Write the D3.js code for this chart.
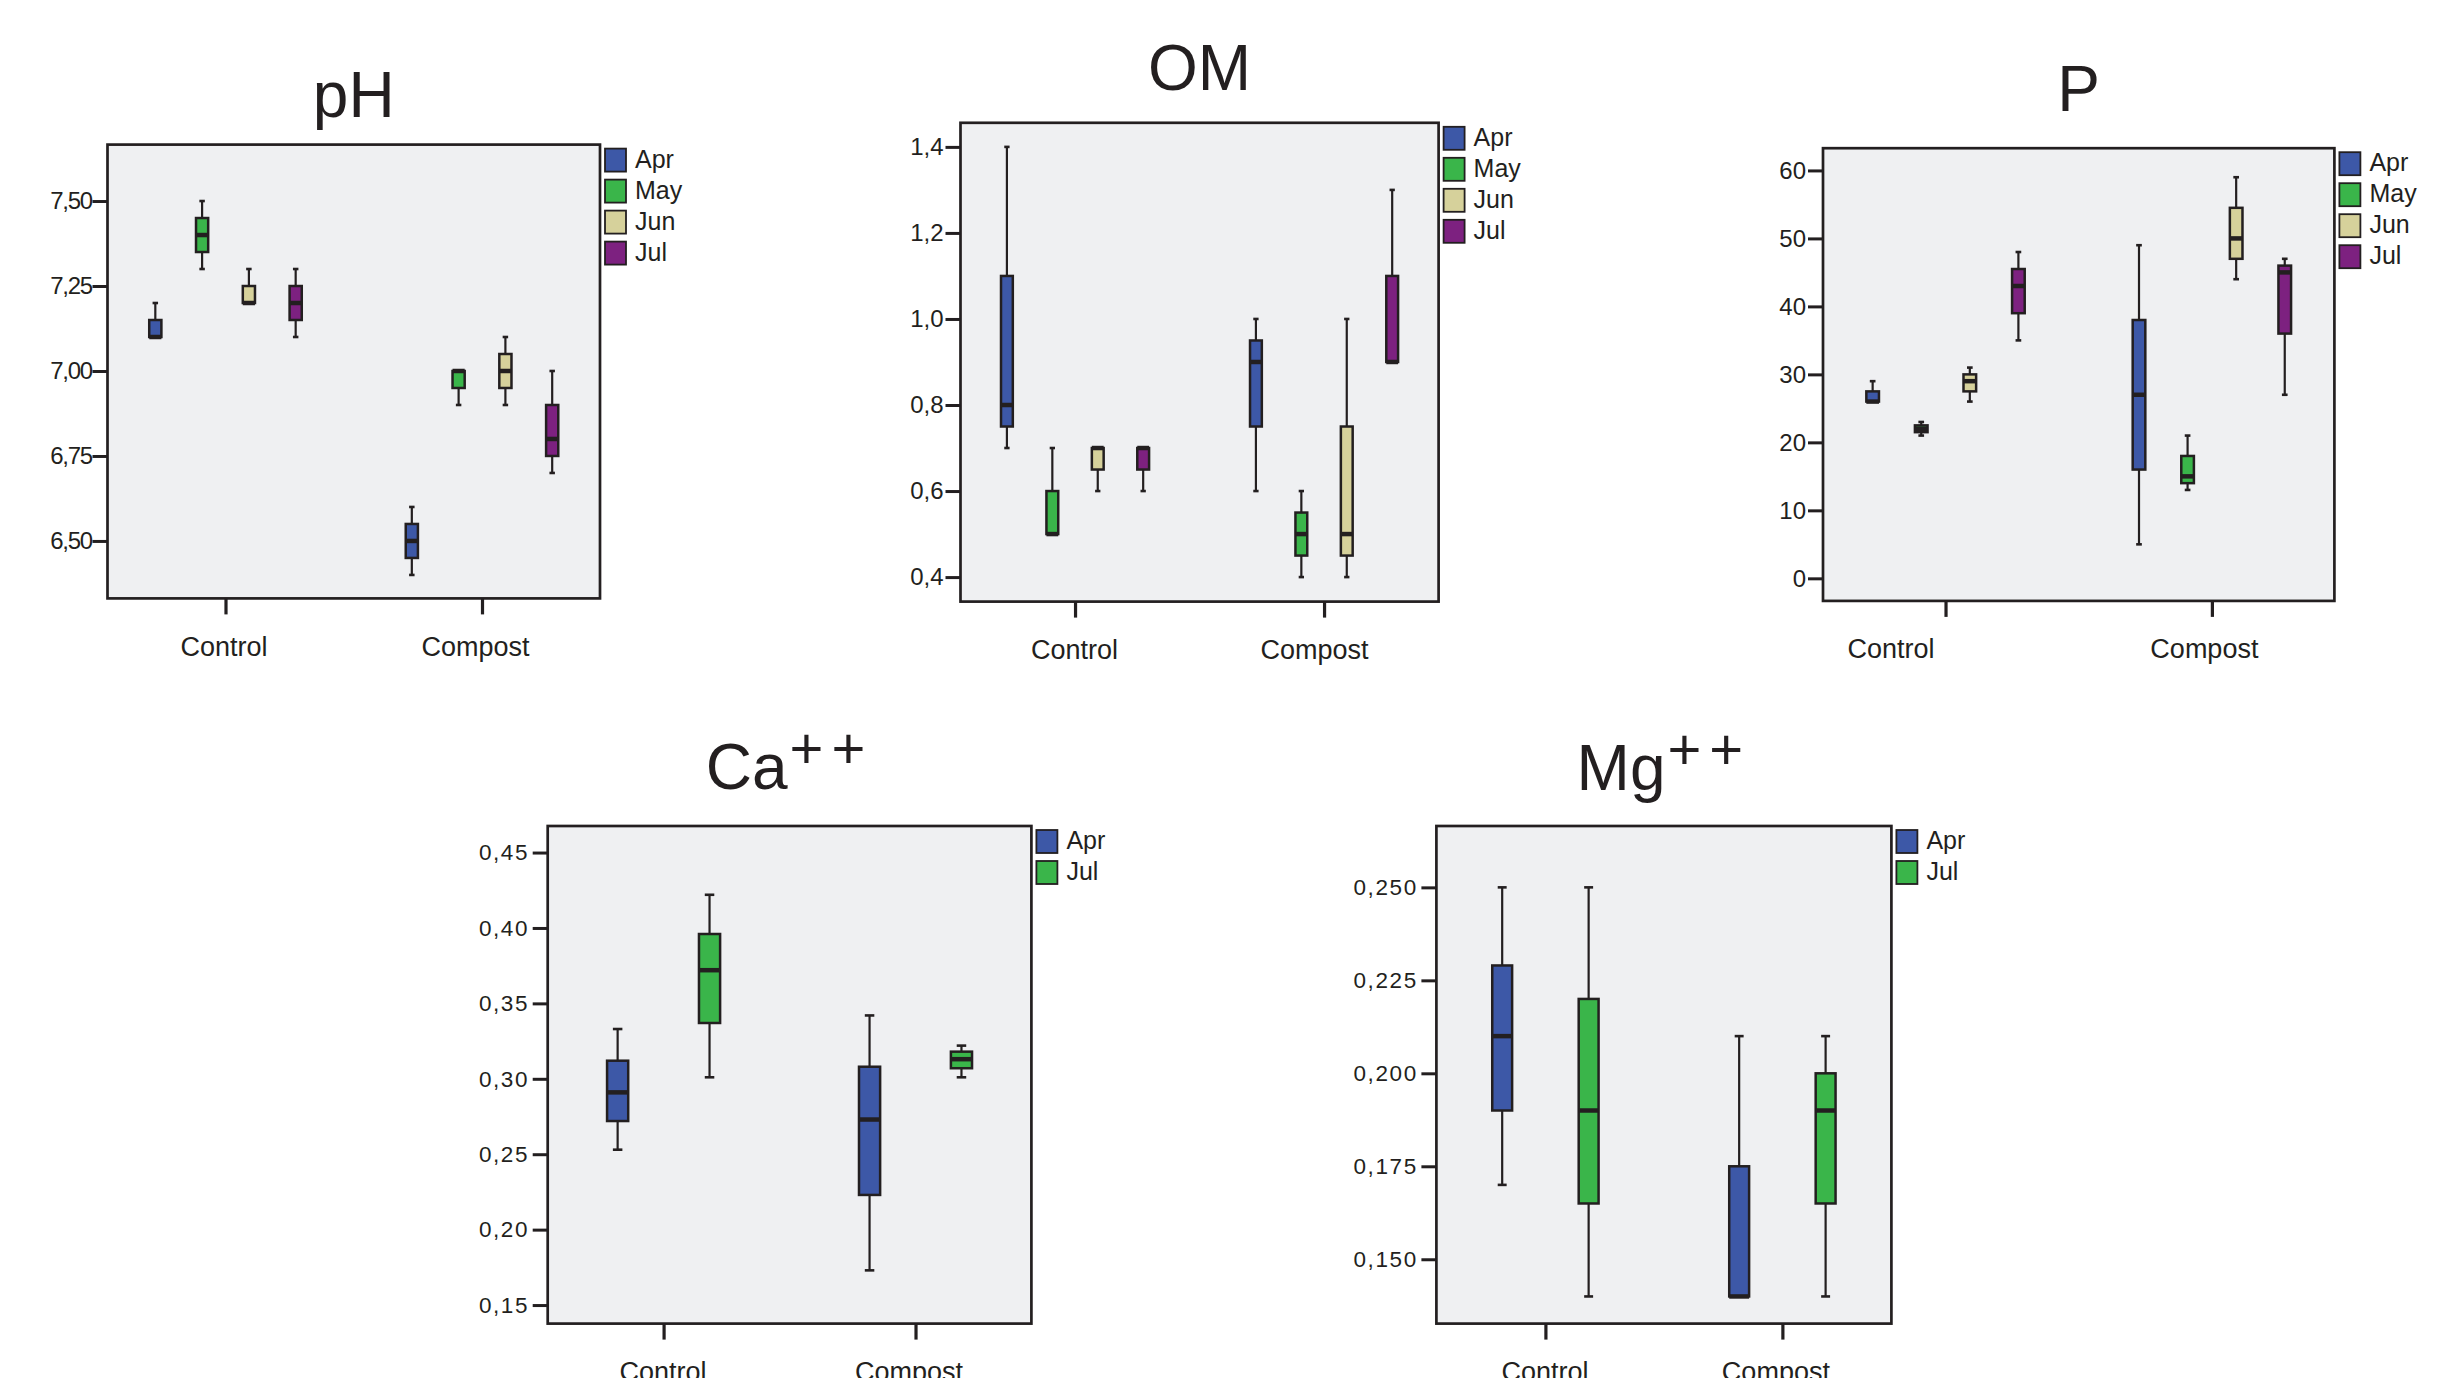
<!DOCTYPE html>
<html>
<head>
    <meta charset="utf-8">
    <title>Soil parameters boxplots</title>
    <script src="https://cdnjs.cloudflare.com/ajax/libs/d3/7.8.5/d3.min.js"></script>
    <style>
        body { margin: 0; background: #fff; }
        text { font-family: "Liberation Sans", Arial, Helvetica, sans-serif; fill: #231f20; }
    </style>
</head>
<body>
<svg id="chart" width="2444" height="1378"></svg>
<script>
    // groups and months
    var groups = ["Control", "Compost"];
    var months4 = ["Apr", "May", "Jun", "Jul"];
    var months2 = ["Apr", "Jul"];

    // each box: [low whisker, q1, median, q3, high whisker], Control months then Compost months
    var phStats = [
        [7.10, 7.10, 7.10, 7.15, 7.20],
        [7.30, 7.35, 7.40, 7.45, 7.50],
        [7.20, 7.20, 7.20, 7.25, 7.30],
        [7.10, 7.15, 7.20, 7.25, 7.30],
        [6.40, 6.45, 6.50, 6.55, 6.60],
        [6.90, 6.95, 7.00, 7.00, 7.00],
        [6.90, 6.95, 7.00, 7.05, 7.10],
        [6.70, 6.75, 6.80, 6.90, 7.00]
    ];
    var omStats = [
        [0.70, 0.75, 0.80, 1.10, 1.40],
        [0.50, 0.50, 0.50, 0.60, 0.70],
        [0.60, 0.65, 0.70, 0.70, 0.70],
        [0.60, 0.65, 0.70, 0.70, 0.70],
        [0.60, 0.75, 0.90, 0.95, 1.00],
        [0.40, 0.45, 0.50, 0.55, 0.60],
        [0.40, 0.45, 0.50, 0.75, 1.00],
        [0.90, 0.90, 0.90, 1.10, 1.30]
    ];
    var pStats = [
        [26, 26, 26, 27.5, 29],
        [21, 21.5, 22, 22.5, 23],
        [26, 27.5, 29, 30, 31],
        [35, 39, 43, 45.5, 48],
        [5, 16, 27, 38, 49],
        [13, 14, 15, 18, 21],
        [44, 47, 50, 54.5, 59],
        [27, 36, 45, 46, 47]
    ];
    var caStats = [
        [0.253, 0.272, 0.291, 0.312, 0.333],
        [0.301, 0.337, 0.372, 0.396, 0.422],
        [0.173, 0.223, 0.273, 0.308, 0.342],
        [0.301, 0.307, 0.313, 0.318, 0.322]
    ];
    var mgStats = [
        [0.170, 0.190, 0.210, 0.229, 0.250],
        [0.140, 0.165, 0.190, 0.220, 0.250],
        [0.140, 0.140, 0.140, 0.175, 0.210],
        [0.140, 0.165, 0.190, 0.200, 0.210]
    ];

    // tick values per chart
    var phTicks = [6.50, 6.75, 7.00, 7.25, 7.50];
    var omTicks = [0.4, 0.6, 0.8, 1.0, 1.2, 1.4];
    var pTicks = [0, 10, 20, 30, 40, 50, 60];
    var caTicks = [0.15, 0.20, 0.25, 0.30, 0.35, 0.40, 0.45];
    var mgTicks = [0.150, 0.175, 0.200, 0.225, 0.250];

    var monthColor = {Apr: "#3d58a7", May: "#3ab54a", Jun: "#d6d19b", Jul: "#7d2180"};
    var monthColor2 = {Apr: "#3d58a7", Jul: "#3ab54a"};

    var locale = d3.formatLocale({decimal: ",", thousands: ".", grouping: [3], currency: ["", ""]});

    var panels = [
        {title: "pH", sup: null, stats: phStats, months: months4, colors: monthColor, ticks: phTicks,
         fmt: locale.format(".2f"), domain: [6.331, 7.666], tickFont: [24, -1.3],
         box: [107.5, 144.6, 600, 598.4], titleY: 117, labelShift: [-2, -7]},
        {title: "OM", sup: null, stats: omStats, months: months4, colors: monthColor, ticks: omTicks,
         fmt: locale.format(".1f"), domain: [0.343, 1.456], tickFont: [24, 0],
         box: [960.5, 122.8, 1438.6, 601.6], titleY: 90, labelShift: [-1, -10]},
        {title: "P", sup: null, stats: pStats, months: months4, colors: monthColor, ticks: pTicks,
         fmt: locale.format("d"), domain: [-3.32, 63.27], tickFont: [24, 0],
         box: [1823, 148.2, 2334.4, 600.9], titleY: 110.5, labelShift: [-55, -8]},
        {title: "Ca", sup: "++", stats: caStats, months: months2, colors: monthColor2, ticks: caTicks,
         fmt: locale.format(".2f"), domain: [0.1377, 0.4676], tickFont: [22.5, 1.6],
         box: [547.7, 826, 1031.4, 1323.6], titleY: 789, labelShift: [-1, -7]},
        {title: "Mg", sup: "++", stats: mgStats, months: months2, colors: monthColor2, ticks: mgTicks,
         fmt: locale.format(".3f"), domain: [0.1327, 0.2665], tickFont: [22.5, 1.6],
         box: [1436.4, 826, 1891.4, 1323.6], titleY: 790, labelShift: [-1, -7]}
    ];

    var svg = d3.select("#chart");
    var ink = "#231f20";

    panels.forEach(function(p) {
        var W = p.box[2] - p.box[0],
            H = p.box[3] - p.box[1];

        var g = svg.append("g")
            .attr("transform", "translate(" + p.box[0] + "," + p.box[1] + ")");

        var y = d3.scaleLinear().domain(p.domain).range([H, 0]);
        var x0 = d3.scalePoint().domain(groups).range([0, W]).padding(0.46);
        var x1 = d3.scaleBand().domain(p.months).range([-0.19 * W, 0.19 * W]);
        var boxW = x1.step() * (p.months.length > 2 ? 0.26 : 0.23);
        var capW = boxW * 0.45;

        // title
        var t = svg.append("text")
            .attr("x", (p.box[0] + p.box[2]) / 2)
            .attr("y", p.titleY)
            .attr("text-anchor", "middle")
            .attr("font-size", 64)
            .text(p.title);
        if (p.sup) {
            t.append("tspan")
                .attr("dy", -21)
                .attr("dx", 2)
                .attr("font-size", 58)
                .attr("letter-spacing", 8)
                .text(p.sup);
        }

        // plot area
        g.append("rect")
            .attr("width", W)
            .attr("height", H)
            .attr("fill", "#eff0f2")
            .attr("stroke", ink)
            .attr("stroke-width", 2.7);

        // y axis
        var yAxis = g.append("g")
            .call(d3.axisLeft(y).tickValues(p.ticks).tickFormat(p.fmt).tickSize(15).tickPadding(2));
        yAxis.select(".domain").remove();
        yAxis.selectAll("line").attr("stroke", ink).attr("stroke-width", 3);
        yAxis.selectAll("text")
            .attr("font-size", p.tickFont[0])
            .attr("letter-spacing", p.tickFont[1])
            .attr("dx", -p.tickFont[1])
            .attr("font-family", "Liberation Sans, Arial, sans-serif")
            .attr("fill", ink);

        // x axis
        var xAxis = g.append("g")
            .attr("transform", "translate(0," + H + ")")
            .call(d3.axisBottom(x0).tickSize(16).tickPadding(22));
        xAxis.select(".domain").remove();
        xAxis.selectAll("line").attr("stroke", ink).attr("stroke-width", 3.2);
        xAxis.selectAll("text")
            .attr("font-size", 27)
            .attr("font-family", "Liberation Sans, Arial, sans-serif")
            .attr("fill", ink)
            .attr("dx", function(d, i) { return p.labelShift[i]; });

        // boxes
        var rows = [];
        groups.forEach(function(gr, gi) {
            p.months.forEach(function(m, mi) {
                rows.push({group: gr, month: m, s: p.stats[gi * p.months.length + mi]});
            });
        });

        var cell = g.selectAll(".cell")
            .data(rows)
            .enter().append("g")
            .attr("class", "cell")
            .attr("transform", function(d) {
                return "translate(" + (x0(d.group) + x1(d.month) + x1.bandwidth() / 2) + ",0)";
            });

        // whiskers
        cell.append("line")
            .attr("y1", function(d) { return y(d.s[0]); })
            .attr("y2", function(d) { return y(d.s[1]); })
            .attr("stroke", ink).attr("stroke-width", 2.2);
        cell.append("line")
            .attr("y1", function(d) { return y(d.s[3]); })
            .attr("y2", function(d) { return y(d.s[4]); })
            .attr("stroke", ink).attr("stroke-width", 2.2);
        cell.selectAll(".cap")
            .data(function(d) { return [d.s[0], d.s[4]]; })
            .enter().append("line")
            .attr("class", "cap")
            .attr("x1", -capW / 2).attr("x2", capW / 2)
            .attr("y1", function(v) { return y(v); })
            .attr("y2", function(v) { return y(v); })
            .attr("stroke", ink).attr("stroke-width", 2.6);

        cell.append("rect")
            .attr("x", -boxW / 2)
            .attr("width", boxW)
            .attr("y", function(d) { return y(d.s[3]); })
            .attr("height", function(d) { return y(d.s[1]) - y(d.s[3]); })
            .attr("fill", function(d) { return p.colors[d.month]; })
            .attr("stroke", ink)
            .attr("stroke-width", 2.5);

        cell.append("line")
            .attr("x1", -boxW / 2).attr("x2", boxW / 2)
            .attr("y1", function(d) { return y(d.s[2]); })
            .attr("y2", function(d) { return y(d.s[2]); })
            .attr("stroke", ink).attr("stroke-width", 4.5);

        // legend
        var leg = svg.append("g")
            .attr("transform", "translate(" + (p.box[2] + 5) + "," + (p.box[1] + 4) + ")");
        var item = leg.selectAll("g")
            .data(p.months)
            .enter().append("g")
            .attr("transform", function(d, i) { return "translate(0," + i * 31 + ")"; });
        item.append("rect")
            .attr("width", 21)
            .attr("height", 23)
            .attr("fill", function(d) { return p.colors[d]; })
            .attr("stroke", ink)
            .attr("stroke-width", 1.8);
        item.append("text")
            .attr("x", 30)
            .attr("y", 19)
            .attr("font-size", 25)
            .text(function(d) { return d; });
    });
</script>
</body>
</html>
